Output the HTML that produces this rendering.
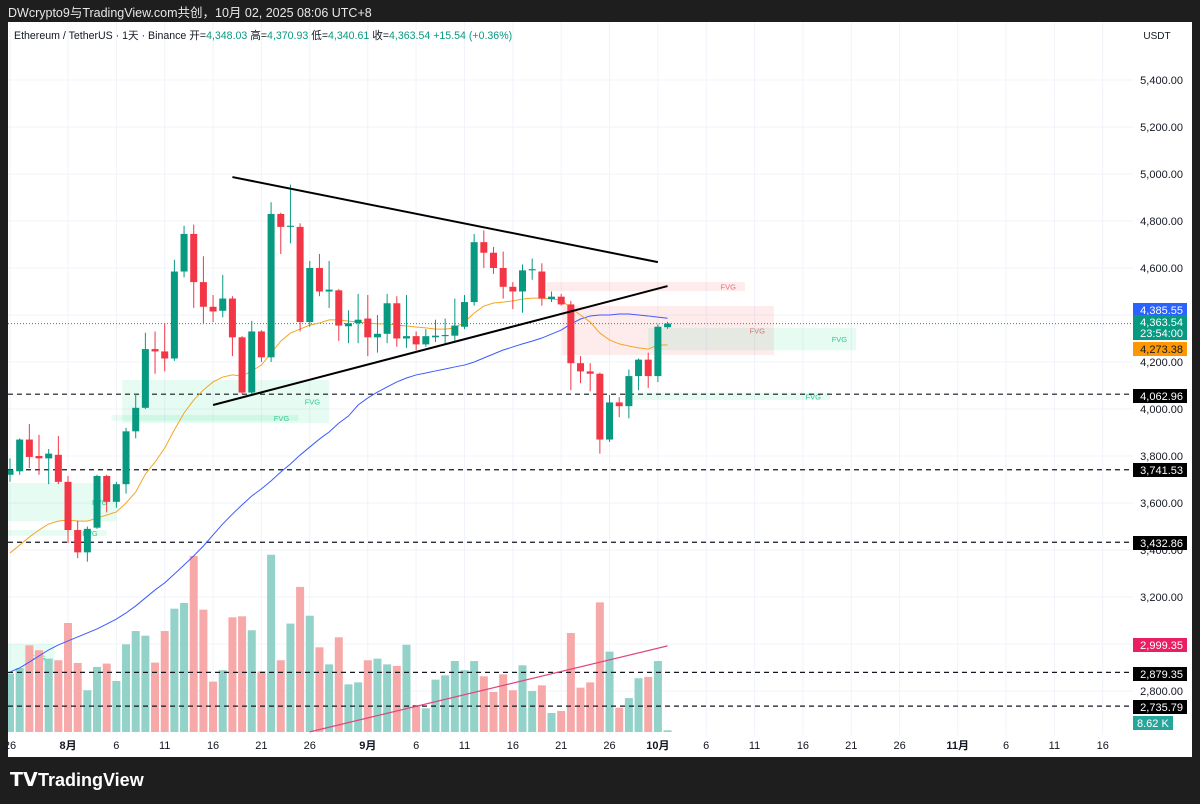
<!DOCTYPE html>
<html><head><meta charset="utf-8"><style>
html,body{margin:0;padding:0;background:#1e1e1e;}
svg{display:block;font-family:"Liberation Sans","Noto Sans CJK SC",sans-serif;}
</style></head><body>
<svg id="chart" width="1200" height="804" viewBox="0 0 1200 804">
<rect x="0" y="0" width="1200" height="804" fill="#1e1e1e"/>
<text x="8" y="17" fill="#e8e8e8" font-size="12.5">DWcrypto9与TradingView.com共创，10月 02, 2025 08:06 UTC+8</text>
<rect x="8" y="22" width="1184" height="735" fill="#ffffff"/>
<g id="grid"></g>
<defs><clipPath id="plotclip"><rect x="8" y="22" width="1125" height="713"/></clipPath></defs>
<g id="plot" clip-path="url(#plotclip)"></g>
<g id="axis"></g>
<g id="xaxis"></g>
<text x="14" y="39" font-size="10.6" fill="#131722">Ethereum / TetherUS · 1天 · Binance  开=<tspan fill="#089981">4,348.03</tspan>  高=<tspan fill="#089981">4,370.93</tspan>  低=<tspan fill="#089981">4,340.61</tspan>  收=<tspan fill="#089981">4,363.54</tspan>  <tspan fill="#089981">+15.54 (+0.36%)</tspan></text>
<text x="1157" y="39" font-size="10" fill="#131722" text-anchor="middle">USDT</text>
<g>
<text x="10" y="786" font-size="19" font-weight="bold" fill="#ffffff">𝗧𝗩</text>
<text x="38" y="786" font-size="18" font-weight="bold" fill="#ffffff">TradingView</text>
</g>
</svg>
<script>
const opens=[3720,3735,3870,3800,3790,3805,3690,3485,3390,3495,3715,3605,3680,3905,4005,4255,4245,4215,4585,4745,4540,4435,4418,4470,4305,4070,4330,4220,4830,4775,4775,4370,4600,4500,4505,4352,4365,4385,4305,4320,4450,4300,4310,4275,4305,4310,4312,4350,4455,4710,4665,4600,4520,4500,4590,4585,4468,4478,4445,4195,4160,4150,3870,4028,4012,4140,4210,4140,4348];
const highs=[3790,3875,3936,3890,3830,3885,3715,3525,3500,3720,3720,3690,3920,4065,4325,4330,4365,4635,4780,4785,4650,4485,4570,4480,4310,4375,4335,4880,4835,4955,4790,4630,4660,4630,4510,4420,4490,4485,4400,4490,4480,4485,4330,4340,4380,4385,4470,4485,4745,4760,4690,4670,4540,4615,4640,4620,4500,4490,4460,4225,4195,4155,4060,4050,4168,4215,4240,4360,4371];
const lows=[3690,3720,3749,3720,3680,3680,3430,3365,3350,3490,3560,3580,3640,3875,4000,4150,4160,4205,4560,4430,4365,4370,4390,4225,4065,4060,4200,4200,4660,4705,4330,4350,4480,4430,4290,4280,4280,4225,4240,4280,4265,4260,4250,4265,4285,4280,4290,4340,4440,4600,4575,4470,4425,4410,4550,4440,4455,4440,4080,4110,4075,3810,3860,3965,3960,4080,4090,4115,4341];
const closes=[3740,3870,3796,3790,3810,3690,3485,3390,3490,3715,3605,3680,3905,4005,4255,4245,4215,4585,4745,4540,4435,4415,4470,4305,4070,4330,4220,4830,4775,4780,4370,4600,4500,4508,4355,4365,4380,4305,4320,4450,4300,4310,4275,4310,4312,4315,4355,4455,4710,4665,4600,4520,4500,4590,4595,4470,4478,4445,4195,4160,4150,3870,4028,4012,4140,4210,4140,4350,4363.54];
const volumes=[298,326,442,417,374,366,556,352,213,332,349,260,447,515,491,354,515,629,658,898,624,257,315,585,590,519,309,904,366,553,740,593,432,345,483,243,253,366,374,345,337,445,138,121,267,289,362,315,362,284,204,294,213,340,209,238,97,107,505,226,253,661,410,124,173,274,281,362,8.62];
const emaFast=[3387,3421,3455,3485,3511,3523,3528,3523,3523,3536,3549,3562,3600,3647,3723,3774,3834,3911,3983,4038,4081,4115,4136,4145,4140,4162,4187,4238,4289,4323,4340,4357,4366,4379,4379,4374,4370,4366,4362,4362,4357,4353,4349,4345,4340,4340,4345,4370,4408,4438,4451,4455,4460,4468,4472,4472,4468,4464,4430,4400,4370,4323,4294,4277,4268,4260,4255,4272,4273];
const maSlow=[2881,2898,2923,2949,2975,2996,3013,3030,3047,3064,3085,3106,3132,3162,3196,3230,3260,3298,3336,3375,3417,3464,3511,3553,3592,3630,3660,3694,3732,3766,3804,3838,3872,3902,3940,3970,4017,4047,4072,4094,4115,4132,4145,4153,4162,4170,4179,4187,4200,4217,4234,4251,4264,4277,4289,4302,4319,4336,4362,4383,4396,4400,4400,4404,4404,4400,4396,4391,4386];
const priceTicks=[5400,5200,5000,4800,4600,4400,4200,4000,3800,3600,3400,3200,3000,2800];
const levels=[4062.96,3741.53,3432.86,2879.35,2735.79];
const timeLabels=["26","8月","6","11","16","21","26","9月","6","11","16","21","26","10月","6","11","16","21","26","11月","6","11","16"];
const timeLabelDays=[0,6,11,16,21,26,31,37,42,47,52,57,62,67,72,77,82,87,92,98,103,108,113];
const upperTrend=[[23,4987],[67,4625]];
const lowerTrend=[[21,4017],[68,4523]];
const pinkTrend=[[31,2626],[68,2992]];
const fvgDays=[[11.6,33,4123,3940,"g"],[10.5,29.8,3975,3950,"g"],[-0.2,11,3685,3523,"g"],[-0.2,10,3485,3460,"g"],[-0.2,4.6,3000,2885,"g"],[55.5,76,4540,4502,"r"],[57.1,79,4438,4230,"r"],[66,87.5,4345,4250,"g"],[64.4,84.8,4070,4038,"g"]];

const X0=10, DX=9.67, Y0=409, K=0.235, VB=732, VK=1/5.1;
const xs=d=>X0+d*DX;
const ys=p=>Y0-(p-4000)*K;
const ns="http://www.w3.org/2000/svg";
function mk(tag,attrs,parent){const e=document.createElementNS(ns,tag);for(const k in attrs)e.setAttribute(k,attrs[k]);parent.appendChild(e);return e;}
const grid=document.getElementById('grid'),plot=document.getElementById('plot'),axis=document.getElementById('axis'),xaxis=document.getElementById('xaxis');
const fmt=v=>v.toLocaleString('en-US',{minimumFractionDigits:2,maximumFractionDigits:2});

priceTicks.forEach(p=>{
 const l=mk('line',{x1:8,x2:1133,y1:ys(p),y2:ys(p),stroke:'#f0f3fa','stroke-width':1},grid);
 
 
 const t=mk('text',{x:1183,y:ys(p)+4,'font-size':11,fill:'#131722','text-anchor':'end'},axis);
 t.textContent=fmt(p);
 
 
});
timeLabels.forEach((s,i)=>{
 const x=xs(timeLabelDays[i]);
 const l=mk('line',{x1:x,x2:x,y1:22,y2:735,stroke:'#f0f3fa','stroke-width':1},grid);
 
 
 const t=mk('text',{x:x,y:749,'font-size':11,fill:'#131722','text-anchor':'middle','font-weight':s.includes('月')?'bold':'normal'},xaxis);
 t.textContent=s;
 
 
});
fvgDays.forEach(f=>{
 const x1=xs(f[0]),x2=xs(f[1]),y1=ys(f[2]),y2=ys(f[3]);
 const g=f[4]==='g';
 const h=Math.max(5,y2-y1);
 const r=mk('rect',{x:x1,y:y1,width:x2-x1,height:h,fill:g?'rgba(8,214,129,0.1)':'rgba(242,54,69,0.1)'},plot);
 
 
 const t=mk('text',{x:x2-9,y:y1+h/2+3,'font-size':7.5,fill:g?'#2ecc8f':'#f06b7a','text-anchor':'end'},plot);
 t.textContent='FVG';
 
 
});
volumes.forEach((v,i)=>{
 const up=closes[i]>=opens[i];
 const h=v*VK;
 const r=mk('rect',{x:xs(i)-4,y:VB-h,width:8,height:h,fill:up?'#92d2c9':'#f7a9a9'},plot);
 
 
});
levels.forEach(p=>{
 const l=mk('line',{x1:8,x2:1133,y1:ys(p),y2:ys(p),stroke:'#131722','stroke-width':1.2,'stroke-dasharray':'5,4'},plot);
 
 
});
const cl=mk('line',{x1:8,x2:1133,y1:ys(closes[closes.length-1]),y2:ys(closes[closes.length-1]),stroke:'#089981','stroke-width':1,'stroke-dasharray':'1,2'},plot);


function poly(arr,color,name){
 const pts=arr.map((p,i)=>xs(i)+','+ys(p)).join(' ');
 const e=mk('polyline',{points:pts,fill:'none',stroke:color,'stroke-width':1},plot);
 
 
}
poly(maSlow,'#3d5afe','slow-ma-line');
poly(emaFast,'#f5a623','fast-ma-line');
function tl(a,color,w,name){
 const e=mk('line',{x1:xs(a[0][0]),y1:ys(a[0][1]),x2:xs(a[1][0]),y2:ys(a[1][1]),stroke:color,'stroke-width':w},plot);
 
 
}
tl(pinkTrend,'#e0457b',1.2,'pink-trendline');
opens.forEach((o,i)=>{
 const c=closes[i],up=c>=o,col=up?'#089981':'#f23645',x=xs(i);
 const w=mk('line',{x1:x,x2:x,y1:ys(highs[i]),y2:ys(lows[i]),stroke:col,'stroke-width':1},plot);
 
 
 const yt=ys(Math.max(o,c)),yb=ys(Math.min(o,c));
 const b=mk('rect',{x:x-3.5,y:yt,width:7,height:Math.max(1,yb-yt),fill:col},plot);
 
 
});
tl(upperTrend,'#000000',2,'triangle-upper-line');
tl(lowerTrend,'#000000',2,'triangle-lower-line');
const tags=[[310,'4,385.55','#2962ff','#fff'],[322,'4,363.54','#089981','#fff'],[349,'4,273.38','#ff9800','#131722'],[396,'4,062.96','#000','#fff'],[470,'3,741.53','#000','#fff'],[543,'3,432.86','#000','#fff'],[645,'2,999.35','#e91e63','#fff'],[674,'2,879.35','#000','#fff'],[707,'2,735.79','#000','#fff']];
tags.forEach((t,i)=>{
 const h=i===1?25:14;
 const r=mk('rect',{x:1133,y:t[0]-7,width:54,height:h,fill:t[2]},axis);
 
 
 const tx=mk('text',{x:1183,y:t[0]+4,'font-size':11,fill:t[3],'text-anchor':'end'},axis);
 tx.textContent=t[1];
 
 
 if(i===1){const t2=mk('text',{x:1183,y:t[0]+15,'font-size':11,fill:'#fff','text-anchor':'end'},axis);t2.textContent='23:54:00';
 
 }
});
const vr=mk('rect',{x:1133,y:716,width:40,height:14,fill:'#26a69a'},axis);


const vt=mk('text',{x:1137,y:727,'font-size':11,fill:'#fff'},axis);
vt.textContent='8.62 K';


</script>
</body></html>
